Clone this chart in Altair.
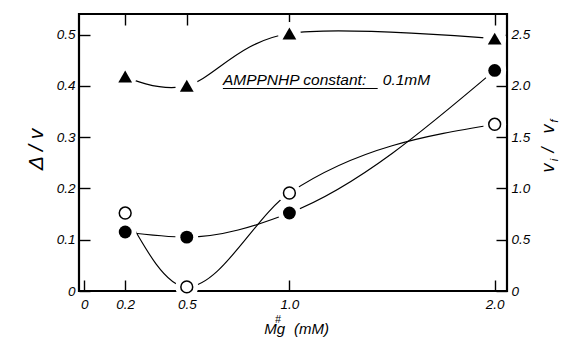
import altair as alt
import pandas as pd

# Mg++ concentration (mM) at which each series was measured
mg = [0.2, 0.5, 1.0, 2.0]
# readings on the left (Δ/v) scale
triangles = [0.418, 0.400, 0.502, 0.492]
filled = [0.115, 0.105, 0.152, 0.430]
open_ = [0.152, 0.008, 0.191, 0.325]

bottom_ticks = [0, 0.2, 0.5, 1.0, 2.0]
top_ticks = [0.2, 0.5, 1.0, 2.0]
left_ticks = [0, 0.1, 0.2, 0.3, 0.4, 0.5]
right_ticks = [0, 0.5, 1.0, 1.5, 2.0, 2.5]
RIGHT_PER_LEFT = 5  # vi/vf units per Δ/v unit

note_text = ["AMPPNHP constant:", "0.1mM"]
note_x = [0.676, 1.455]
note_y = [0.4016, 0.4016]
underline_x = [0.676, 1.43]
underline_y = [0.3948]

X_DOM = [-0.025, 2.06]
Y_DOM = [0, 0.54]
FONT = "Liberation Sans"
W, H = 428, 277
TICK = 11


def axis(expr="datum.value == 0 ? '0' : format(datum.value, '.1f')", **kw):
    base = dict(domain=False, grid=False, tickColor="black", tickWidth=1.4,
                tickSize=TICK, offset=-TICK, labelFont=FONT, labelFontSize=13.5,
                labelFontStyle="italic", labelColor="black", labelOverlap=False,
                labelFlush=False, labelExpr=expr, title=None)
    base.update(kw)
    return alt.Axis(**base)


xs = alt.Scale(domain=X_DOM, nice=False, zero=False)
ys = alt.Scale(domain=Y_DOM, nice=False, zero=False)

df_tri = pd.DataFrame({"mg": mg, "v": triangles})
df_fil = pd.DataFrame({"mg": mg, "v": filled})
df_opn = pd.DataFrame({"mg": mg, "v": open_})
df_all = pd.concat([df_tri, df_fil, df_opn], ignore_index=True)


def xy():
    return dict(x=alt.X("mg:Q", scale=xs, axis=None),
                y=alt.Y("v:Q", scale=ys, axis=None))


line_style = dict(color="black", strokeWidth=1.15)

tri_line = alt.Chart(df_tri).mark_line(interpolate="cardinal", **line_style).encode(**xy())
fil_line = alt.Chart(df_fil).mark_line(interpolate="monotone", **line_style).encode(**xy())
opn_line = alt.Chart(df_opn).mark_line(interpolate="monotone", **line_style).encode(**xy())

# white discs that open a small gap in the curves around each symbol
halo = alt.Chart(df_all).mark_point(shape="circle", filled=True, color="white",
                                    opacity=1, size=520).encode(**xy())

tri_pts = alt.Chart(df_tri).mark_point(shape="triangle-up", filled=True, color="black",
                                       opacity=1, size=190).encode(**xy())
fil_pts = alt.Chart(df_fil).mark_point(shape="circle", filled=True, color="black",
                                       opacity=1, size=165).encode(**xy())
opn_pts = alt.Chart(df_opn).mark_point(shape="circle", filled=True, fill="white",
                                       stroke="black", strokeWidth=1.5, opacity=1,
                                       size=140).encode(**xy())

df_note = pd.DataFrame({"mg": note_x, "v": note_y, "t": note_text})
note = alt.Chart(df_note).mark_text(font=FONT, fontSize=15.5, fontStyle="italic",
                                    align="left", baseline="alphabetic",
                                    color="black").encode(**xy(), text="t:N")
df_ul = pd.DataFrame({"x0": [underline_x[0]], "x1": [underline_x[1]], "v": underline_y})
underline = alt.Chart(df_ul).mark_rule(color="black", strokeWidth=1.1).encode(
    x=alt.X("x0:Q", scale=xs, axis=None), x2="x1:Q",
    y=alt.Y("v:Q", scale=ys, axis=None))

# invisible layers that only carry the four axes (ticks point into the frame)
left_axis = alt.Chart(pd.DataFrame({"v": left_ticks})).mark_point(opacity=0).encode(
    y=alt.Y("v:Q", scale=ys, axis=axis(
        orient="left", values=left_ticks, labelPadding=4,
        title="Δ   /  v", titleFont=FONT, titleFontSize=21, titleFontStyle="italic",
        titleFontWeight="normal", titleColor="black", titleAngle=270,
        titleAlign="center", titleBaseline="middle", titleX=-43 - TICK, titleY=135)))

right_vals = [r / RIGHT_PER_LEFT for r in right_ticks]
right_axis = alt.Chart(pd.DataFrame({"v": right_vals})).mark_point(opacity=0).encode(
    y=alt.Y("v:Q", scale=ys, axis=axis(
        expr=f"datum.value == 0 ? '0' : format(datum.value * {RIGHT_PER_LEFT}, '.1f')",
        orient="right", values=right_vals, labelPadding=4)))

bottom_axis = alt.Chart(pd.DataFrame({"mg": bottom_ticks})).mark_point(opacity=0).encode(
    x=alt.X("mg:Q", scale=xs, axis=axis(orient="bottom", values=bottom_ticks, labelPadding=6)))

top_axis = alt.Chart(pd.DataFrame({"mg": top_ticks})).mark_point(opacity=0).encode(
    x=alt.X("mg:Q", scale=xs, axis=axis(orient="top", values=top_ticks, labels=False)))


def word(text, x, y, size, angle=0, align="center", baseline="middle", style="italic"):
    kw = dict(text=text, font=FONT, fontSize=size, fontStyle=style, align=align,
              baseline=baseline, color="black")
    if angle:
        kw["angle"] = angle
    return alt.Chart(alt.Data(values=[{}])).mark_text(**kw).encode(
        x=alt.value(x), y=alt.value(y))


titles = [
    # right: v_i / v_f
    word("v", 470, 154, 18, angle=270),
    word("i", 476, 146, 11, angle=270),
    word("/", 470, 136, 18, angle=270),
    word("v", 470, 115, 18, angle=270),
    word("f", 475.5, 107, 11, angle=270),
    # bottom: Mg++ (mM)
    word("Mg", 206, 320, 15, align="right", baseline="alphabetic"),
    word("#", 199, 309, 10.5, baseline="alphabetic"),
    word("(mM)", 215, 320, 15, align="left", baseline="alphabetic"),
]

chart = alt.layer(
    left_axis, right_axis, bottom_axis, top_axis,
    fil_line, opn_line, tri_line, halo, tri_pts, fil_pts, opn_pts, underline, note,
    *titles
).resolve_axis(x="independent", y="independent").properties(
    width=W, height=H,
    background="white",
    autosize=alt.AutoSizeParams(type="none"),
    padding={"left": 79, "top": 14, "right": 561 - 79 - W, "bottom": 341 - 14 - H},
).configure_view(stroke="black", strokeWidth=2.2)

chart.save("out.html", embed_options={"renderer": "svg", "actions": False})
